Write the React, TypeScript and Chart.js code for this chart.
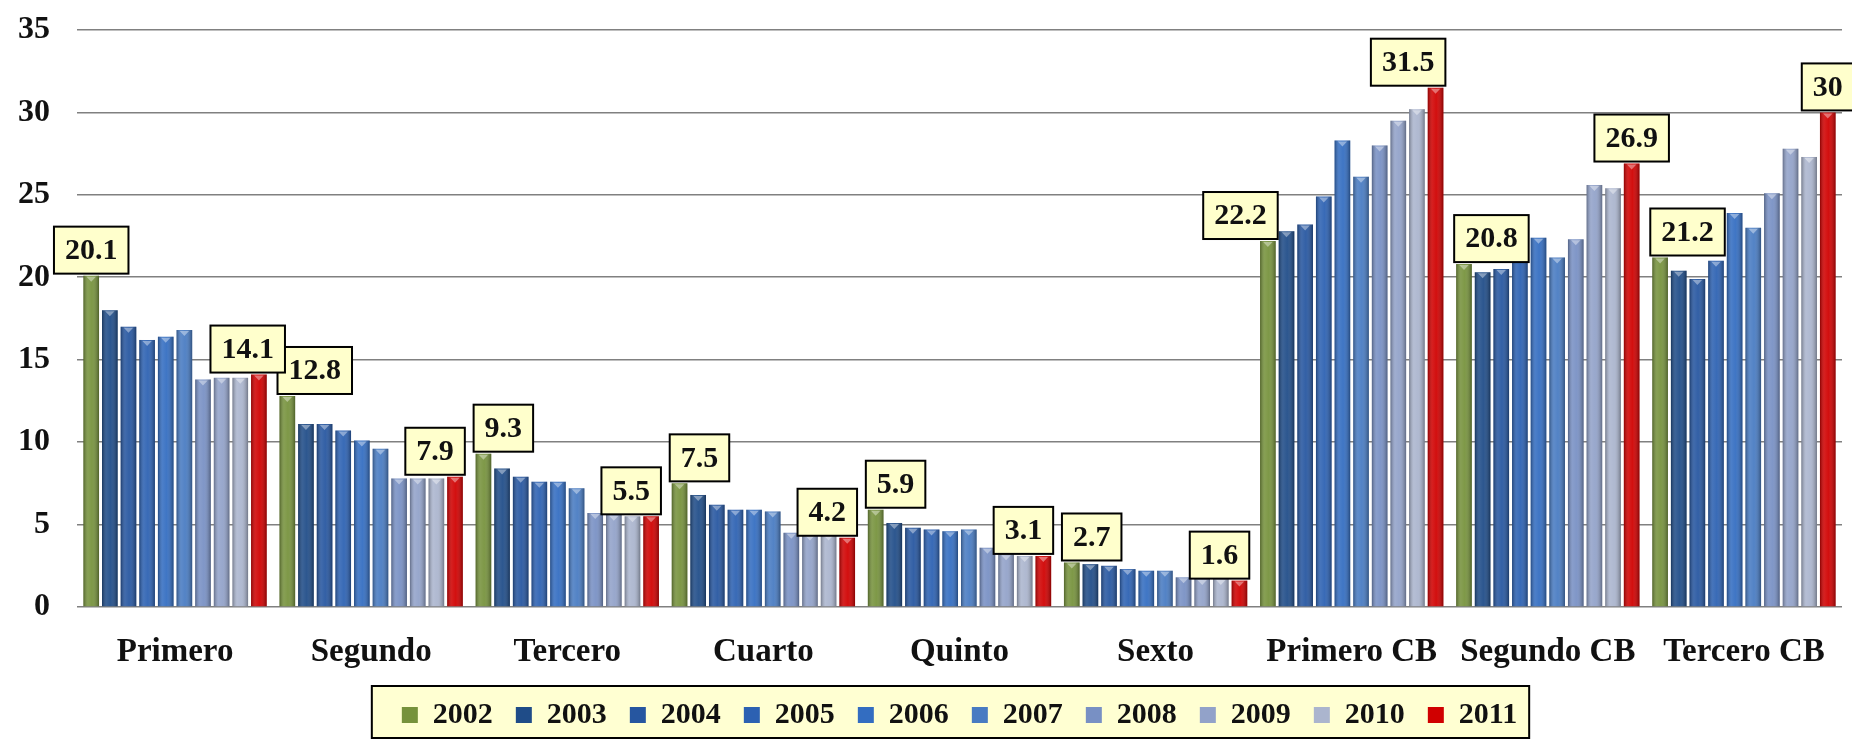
import React, { useEffect, useRef } from "react";
import { Chart, registerables } from "chart.js";

Chart.register(...registerables);

// ---- Data ----
const categories = [
  "Primero",
  "Segundo",
  "Tercero",
  "Cuarto",
  "Quinto",
  "Sexto",
  "Primero CB",
  "Segundo CB",
  "Tercero CB",
];

const years = ["2002", "2003", "2004", "2005", "2006", "2007", "2008", "2009", "2010", "2011"];

const v2002 = [20.1, 12.8, 9.3, 7.5, 5.9, 2.7, 22.2, 20.8, 21.2];
const v2003 = [18.0, 11.1, 8.4, 6.8, 5.1, 2.6, 22.8, 20.3, 20.4];
const v2004 = [17.0, 11.1, 7.9, 6.2, 4.8, 2.5, 23.2, 20.5, 19.9];
const v2005 = [16.2, 10.7, 7.6, 5.9, 4.7, 2.3, 24.9, 21.5, 21.0];
const v2006 = [16.4, 10.1, 7.6, 5.9, 4.6, 2.2, 28.3, 22.4, 23.9];
const v2007 = [16.8, 9.6, 7.2, 5.8, 4.7, 2.2, 26.1, 21.2, 23.0];
const v2008 = [13.8, 7.8, 5.7, 4.5, 3.6, 1.8, 28.0, 22.3, 25.1];
const v2009 = [13.9, 7.8, 5.6, 4.4, 3.2, 1.7, 29.5, 25.6, 27.8];
const v2010 = [13.9, 7.8, 5.5, 4.4, 3.1, 1.7, 30.2, 25.4, 27.3];
const v2011 = [14.1, 7.9, 5.5, 4.2, 3.1, 1.6, 31.5, 26.9, 30];

const yTicks = [0, 5, 10, 15, 20, 25, 30, 35];

// ---- Style ----
const seriesValues = [v2002, v2003, v2004, v2005, v2006, v2007, v2008, v2009, v2010, v2011];
const seriesColors = [
  "#76923C",
  "#1F4C88",
  "#2656A0",
  "#2C61B2",
  "#336DC1",
  "#487BC2",
  "#7890C4",
  "#92A2C9",
  "#ABB5CE",
  "#D00000",
];
// which series get value boxes, and how each box is anchored to its bar
const labelledSeries = [0, 9];
const labelAlign: Record<number, string[]> = {
  0: ["center", "start", "start", "start", "start", "start", "end", "start", "start"],
  9: ["mid-end", "end", "end", "end", "end", "end", "end", "center", "center"],
};

const FONT = '"Liberation Serif", "Times New Roman", serif';
const TEXT = "#111111";

const decorPlugin = {
  id: "decor",
  beforeDraw(chart: any) {
    const lg = chart.legend;
    if (!lg || !lg.legendHitBoxes || !lg.legendHitBoxes.length) return;
    const hb = lg.legendHitBoxes;
    const first = hb[0];
    const last = hb[hb.length - 1];
    const cy = first.top + first.height / 2;
    const x0 = first.left - 30;
    const x1 = last.left + last.width + 12;
    const y0 = cy - 29;
    const y1 = cy + 23;
    const ctx = chart.ctx;
    ctx.save();
    ctx.fillStyle = "#FFFFD2";
    ctx.fillRect(x0, y0, x1 - x0, y1 - y0);
    ctx.strokeStyle = "#000";
    ctx.lineWidth = 2;
    ctx.strokeRect(x0, y0, x1 - x0, y1 - y0);
    ctx.restore();
  },
  afterDatasetsDraw(chart: any) {
    const ctx = chart.ctx;
    ctx.save();
    // cylinder-like shading on every bar
    chart.data.datasets.forEach((_ds: any, di: number) => {
      const meta = chart.getDatasetMeta(di);
      meta.data.forEach((bar: any) => {
        const { x, y, base, width } = bar.getProps(["x", "y", "base", "width"], true);
        const left = x - width / 2;
        const g = ctx.createLinearGradient(left, 0, left + width, 0);
        g.addColorStop(0, "rgba(0,0,0,0.32)");
        g.addColorStop(0.3, "rgba(255,255,255,0.12)");
        g.addColorStop(0.55, "rgba(255,255,255,0.06)");
        g.addColorStop(1, "rgba(0,0,0,0.34)");
        ctx.fillStyle = g;
        ctx.fillRect(left, y, width, base - y);
        // light tip
        ctx.fillStyle = "rgba(255,255,255,0.4)";
        ctx.beginPath();
        ctx.moveTo(left + width * 0.2, y + 1);
        ctx.lineTo(left + width * 0.8, y + 1);
        ctx.lineTo(x, y + 6);
        ctx.closePath();
        ctx.fill();
      });
    });
    // value boxes
    ctx.font = `bold 30px ${FONT}`;
    ctx.textAlign = "center";
    ctx.textBaseline = "middle";
    labelledSeries.forEach((di) => {
      const meta = chart.getDatasetMeta(di);
      const values = chart.data.datasets[di].data;
      meta.data.forEach((bar: any, i: number) => {
        const { x, y, width } = bar.getProps(["x", "y", "width"], true);
        const text = String(values[i]);
        const tw = ctx.measureText(text).width;
        const bw = tw + 22;
        const bh = 47;
        const left = x - width / 2;
        const a = labelAlign[di][i];
        let bx = x - bw / 2;
        if (a === "start") bx = left - 2;
        if (a === "end") bx = left + width - bw + 2;
        if (a === "mid-end") bx = x - bw * 0.65;
        const by = y - 2 - bh;
        ctx.fillStyle = "#FFFFCC";
        ctx.fillRect(bx, by, bw, bh);
        ctx.strokeStyle = "#000";
        ctx.lineWidth = 2;
        ctx.strokeRect(bx, by, bw, bh);
        ctx.fillStyle = TEXT;
        ctx.fillText(text, bx + bw / 2, by + bh / 2 + 1);
      });
    });
    ctx.restore();
  },
};

export default function App() {
  const ref = useRef<HTMLCanvasElement>(null);

  useEffect(() => {
    if (!ref.current) return;
    Chart.defaults.font.family = FONT;
    const chart = new Chart(ref.current, {
      type: "bar",
      data: {
        labels: categories,
        datasets: years.map((y, i) => ({
          label: y,
          data: seriesValues[i],
          backgroundColor: seriesColors[i],
          borderWidth: 0,
          barPercentage: 0.84,
          categoryPercentage: 0.95,
        })),
      },
      options: {
        responsive: false,
        animation: false,
        events: [],
        layout: { padding: { top: 30, right: 10, left: 0, bottom: 0 } },
        plugins: {
          tooltip: { enabled: false },
          legend: {
            position: "bottom",
            fullSize: false,
            labels: {
              boxWidth: 16,
              boxHeight: 16,
              padding: 23,
              color: TEXT,
              font: { family: FONT, size: 30, weight: "bold" },
            },
          },
        },
        scales: {
          x: {
            grid: { display: false },
            border: { display: false },
            ticks: {
              color: TEXT,
              padding: 18,
              maxRotation: 0,
              autoSkip: false,
              font: { family: FONT, size: 33, weight: "bold" },
            },
            afterFit: (scale: any) => {
              scale.height = 70;
            },
          },
          y: {
            min: 0,
            max: 35,
            afterBuildTicks: (scale: any) => {
              scale.ticks = yTicks.map((v) => ({ value: v }));
            },
            grid: {
              color: "#808080",
              lineWidth: 1.6,
              drawTicks: true,
              tickLength: 24,
              tickColor: "rgba(0,0,0,0)",
            },
            border: { display: false },
            ticks: {
              color: TEXT,
              padding: 3,
              font: { family: FONT, size: 32, weight: "bold" },
            },
            afterFit: (scale: any) => {
              scale.width = 77;
            },
          },
        },
      },
      plugins: [decorPlugin],
    });
    return () => chart.destroy();
  }, []);

  return (
    <div style={{ position: "absolute", left: 0, top: 0, width: 1852, height: 740, background: "#fff" }}>
      <canvas ref={ref} width={1852} height={740} style={{ display: "block", width: 1852, height: 740 }} />
    </div>
  );
}
